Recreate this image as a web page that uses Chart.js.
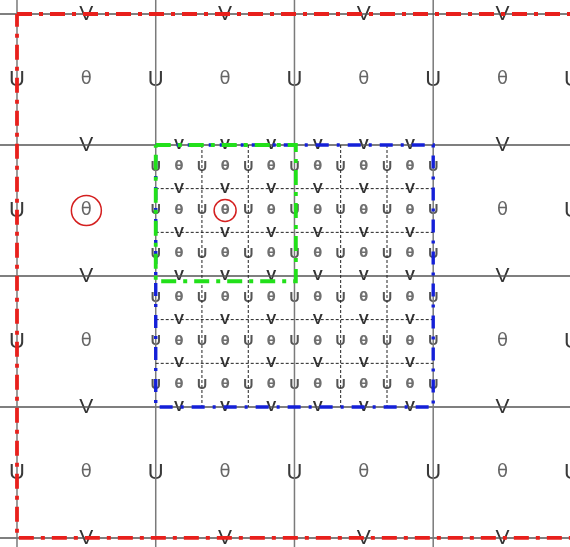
<!DOCTYPE html>
<html>
<head>
<meta charset="utf-8">
<script src="https://cdn.jsdelivr.net/npm/chart.js@4/dist/chart.umd.min.js"></script>
<style>
  html, body { margin: 0; padding: 0; background: #ffffff; }
  #wrap { width: 570px; height: 547px; position: relative; }
</style>
</head>
<body>
<div id="wrap"><canvas id="c"></canvas></div>
<script>
// ---- data (coarse-grid units) ----
const coarseLines = [0, 1, 2, 3, 4];
const coarseCenters = [0.5, 1.5, 2.5, 3.5];
const fineLines = [1, 1.333, 1.667, 2, 2.333, 2.667, 3];
const fineDashed = [1.333, 1.667, 2.333, 2.667];
const fineCenters = [1.167, 1.5, 1.833, 2.167, 2.5, 2.833];
const nestLo = 1, nestHi = 3;
const varLabels = ['U', 'V', 'θ'];
const redBoxX = [0, 4, 4, 0, 0];
const redBoxY = [0, 0, 4, 4, 0];
const greenBoxX = [1, 2.01, 2.01, 1, 1];
const greenBoxY = [1, 1, 2.04, 2.04, 1];
const blueBoxX = [1, 3, 3, 1, 1];
const blueBoxY = [1, 1, 3, 3, 1];
const circledX = [0.5, 1.5];
const circledY = [1.5, 1.5];

// ---- build datasets ----
const datasets = [];
function seg(pts, color, width, dash, order) {
  datasets.push({
    type: 'line', data: pts, borderColor: color, borderWidth: width,
    borderDash: dash || [], pointRadius: 0, fill: false, tension: 0, showLine: true,
    order: order
  });
}
// coarse grid
coarseLines.forEach(v => {
  seg([{x: v, y: -1}, {x: v, y: 5}], '#7a7a7a', 1.5, [], 10);
  seg([{x: -1, y: v}, {x: 5, y: v}], '#555555', 1.5, [], 10);
});
// fine dashed grid
fineDashed.forEach(v => {
  seg([{x: v, y: nestLo}, {x: v, y: nestHi}], '#222222', 1, [3, 2], 9);
  seg([{x: nestLo, y: v}, {x: nestHi, y: v}], '#222222', 1, [3, 2], 9);
});
// domain boxes
function box(xs, ys, color, width, dash, order) {
  seg(xs.map((x, i) => ({x: x, y: ys[i]})), color, width, dash, order);
}
box(redBoxX, redBoxY, '#e8201c', 3.8, [15, 7, 4, 7], 3);
box(blueBoxX, blueBoxY, '#1420d8', 3.4, [13, 8, 3, 8], 2);
box(greenBoxX, greenBoxY, '#22e01a', 3.8, [15, 7, 4, 7], 1);
// circled points
datasets.push({
  type: 'scatter',
  data: circledX.map((x, i) => ({x: x, y: circledY[i]})),
  pointStyle: 'circle', pointRadius: [15, 11], pointBorderColor: '#d42020',
  pointBackgroundColor: 'rgba(0,0,0,0)', pointBorderWidth: 1.5, showLine: false,
  order: 0
});

// ---- labels plugin (drawn under the lines) ----
const inNest = (x, y) => x >= nestLo && x <= nestHi && y >= nestLo && y <= nestHi;
const labelPlugin = {
  id: 'gridLabels',
  beforeDatasetsDraw(chart) {
    const ctx = chart.ctx, sx = chart.scales.x, sy = chart.scales.y;
    ctx.save();
    ctx.textAlign = 'center';
    ctx.textBaseline = 'middle';
    function put(t, x, y, font, color) {
      ctx.font = font; ctx.fillStyle = color;
      ctx.fillText(t, sx.getPixelForValue(x), sy.getPixelForValue(y));
    }
    // coarse
    coarseLines.forEach(lx => coarseCenters.forEach(cy => {
      if (!inNest(lx, cy)) put(varLabels[0], lx, cy, '22px "Liberation Sans", Arial', '#3a3a3a');
    }));
    coarseCenters.forEach(cx => coarseLines.forEach(ly => {
      if (!inNest(cx, ly)) put(varLabels[1], cx, ly, '21px "Liberation Sans", Arial', '#333333');
    }));
    coarseCenters.forEach(cx => coarseCenters.forEach(cy => {
      if (!inNest(cx, cy)) put(varLabels[2], cx, cy, '18px "DejaVu Sans", sans-serif', '#666666');
    }));
    // fine
    fineLines.forEach(lx => fineCenters.forEach(cy => {
      put(varLabels[0], lx, cy, 'bold 14px "Liberation Sans", Arial', '#555555');
    }));
    fineCenters.forEach(cx => fineLines.forEach(ly => {
      put(varLabels[1], cx, ly, 'bold 15px "Liberation Sans", Arial', '#333333');
    }));
    fineCenters.forEach(cx => fineCenters.forEach(cy => {
      put(varLabels[2], cx, cy, 'bold 13px "DejaVu Sans", sans-serif', '#707070');
    }));
    ctx.restore();
  }
};

new Chart(document.getElementById('c'), {
  type: 'scatter',
  data: { datasets: datasets },
  options: {
    responsive: true,
    maintainAspectRatio: false,
    animation: false,
    layout: { padding: 0, autoPadding: false },
    plugins: { legend: { display: false }, tooltip: { enabled: false } },
    scales: {
      x: { type: 'linear', display: false, min: -0.1225, max: 3.986 },
      y: { type: 'linear', display: false, reverse: true, min: -0.107, max: 4.069 }
    }
  },
  plugins: [labelPlugin]
});
</script>
</body>
</html>
